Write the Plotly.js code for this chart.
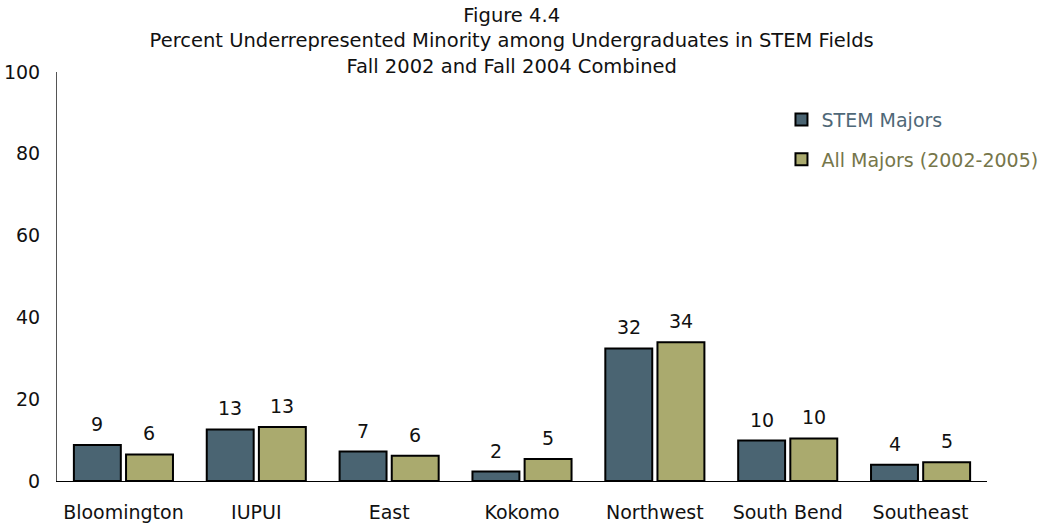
<!DOCTYPE html>
<html>
<head>
<meta charset="utf-8">
<script src="https://cdn.plot.ly/plotly-3.0.1.min.js"></script>
<style>
  html, body { margin: 0; padding: 0; background: #ffffff; }
  #chart { width: 1040px; height: 527px; }
</style>
</head>
<body>
<div id="chart"></div>
<script>
// ---- data ----
var categories = ["Bloomington", "IUPUI", "East", "Kokomo", "Northwest", "South Bend", "Southeast"];
var stemValues = [8.8, 12.6, 7.2, 2.3, 32.4, 9.9, 4.0];
var allValues  = [6.5, 13.2, 6.2, 5.4, 33.9, 10.4, 4.6];
var stemLabels = ["9", "13", "7", "2", "32", "10", "4"];
var allLabels  = ["6", "13", "6", "5", "34", "10", "5"];
var seriesNames = ["STEM Majors", "All Majors (2002-2005)"];
var titleLines = ["Figure 4.4",
  "Percent Underrepresented Minority among Undergraduates in STEM Fields",
  "Fall 2002 and Fall 2004 Combined"];
var yTicks = [0, 20, 40, 60, 80, 100];

// ---- styling ----
var FONT = "DejaVu Sans, Verdana, sans-serif";
var FS = 19;
var stemColor = "#4a6472";
var allColor = "#aaaa6e";
var stemText = "#4f6878";
var allText = "#76764a";

var traces = [
  {
    type: "bar", x: categories, y: stemValues,
    name: '<span style="color:' + stemText + '">' + seriesNames[0] + '</span>',
    legendgroup: "a",
    marker: { color: stemColor, line: { color: "#000000", width: 2 } },
    hoverinfo: "x+y"
  },
  {
    type: "bar", x: categories, y: allValues,
    name: '<span style="color:' + allText + '">' + seriesNames[1] + '</span>',
    legendgroup: "b",
    marker: { color: allColor, line: { color: "#000000", width: 2 } },
    hoverinfo: "x+y"
  }
];

var annotations = [];
var SHIFT = 26;
categories.forEach(function (c, i) {
  annotations.push({
    x: c, y: stemValues[i], xref: "x", yref: "y", text: stemLabels[i],
    showarrow: false, xshift: -SHIFT, yanchor: "bottom", yshift: 8,
    font: { family: FONT, size: FS, color: "#111111" }
  });
  annotations.push({
    x: c, y: allValues[i], xref: "x", yref: "y", text: allLabels[i],
    showarrow: false, xshift: SHIFT, yanchor: "bottom", yshift: 8,
    font: { family: FONT, size: FS, color: "#111111" }
  });
});

var layout = {
  width: 1040, height: 527,
  paper_bgcolor: "#ffffff", plot_bgcolor: "#ffffff",
  margin: { l: 57, r: 53, t: 72, b: 46, pad: 0, autoexpand: false },
  font: { family: FONT, size: FS, color: "#111111" },
  title: {
    text: titleLines.join("<br>"),
    font: { family: FONT, size: 19.5, color: "#111111" },
    xref: "container", x: 0.492, xanchor: "center",
    yref: "container", y: 0.958, yanchor: "top"
  },
  barmode: "group",
  bargap: 0.215,
  bargroupgap: 0.1,
  showlegend: true,
  legend: {
    x: 0.779, xanchor: "left", y: 0.93, yanchor: "top",
    bgcolor: "rgba(0,0,0,0)",
    font: { family: FONT, size: FS },
    tracegroupgap: 12,
    traceorder: "grouped"
  },
  xaxis: {
    type: "category",
    showline: true, linecolor: "#000000", linewidth: 1,
    showgrid: false, zeroline: false, ticks: "",
    ticklabelstandoff: 14,
    tickfont: { family: FONT, size: FS, color: "#111111" }
  },
  yaxis: {
    range: [0, 100],
    tickvals: yTicks,
    ticktext: yTicks.map(String),
    showline: true, linecolor: "#555555", linewidth: 1,
    showgrid: false, zeroline: false, ticks: "",
    ticklabelstandoff: 12,
    tickfont: { family: FONT, size: FS, color: "#111111" }
  },
  annotations: annotations
};

Plotly.newPlot("chart", traces, layout, { displayModeBar: false, staticPlot: true });
</script>
</body>
</html>
